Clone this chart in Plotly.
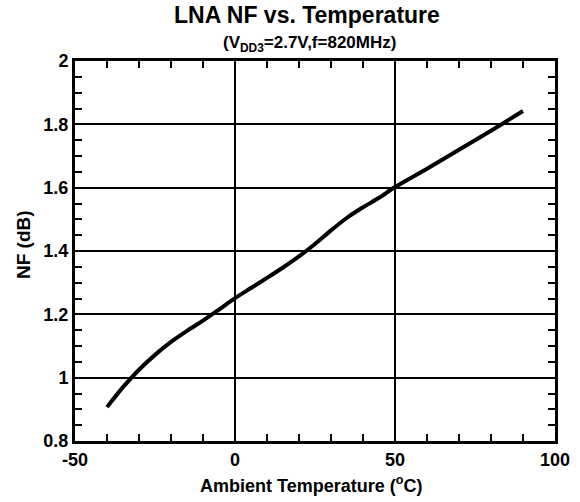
import plotly.graph_objects as go

temp_c = [-40, -35, -30, -25, -20, -15, -10, -5, 0, 5, 10, 15, 20, 25, 30, 35, 40, 45, 50, 60, 70, 80, 90]
nf_db = [0.907, 0.97, 1.025, 1.072, 1.113, 1.148, 1.18, 1.215, 1.251, 1.283, 1.315, 1.348, 1.383,
         1.422, 1.465, 1.505, 1.538, 1.568, 1.602, 1.66, 1.72, 1.78, 1.842]

x_ticks = [-50, 0, 50, 100]
y_ticks = [0.8, 1.0, 1.2, 1.4, 1.6, 1.8, 2.0]
y_tick_text = ["0.8", "1", "1.2", "1.4", "1.6", "1.8", "2"]

title_text = "LNA NF vs. Temperature"
subtitle_text = "(V<sub>DD3</sub>=2.7V,f=820MHz)"
x_title = "Ambient Temperature (<sup>o</sup>C)"
y_title = "NF (dB)"

font_family = "Liberation Sans, Arial, sans-serif"
W, H = 580, 502
L, R, T, B = 75, 25, 61, 61
PW, PH = W - L - R, H - T - B


def px_x(x):
    return (x - L) / PW


def px_y(y):
    return 1 - (y - T) / PH


fig = go.Figure()
fig.add_trace(go.Scatter(x=temp_c, y=nf_db, mode="lines",
                         line=dict(color="black", width=4, shape="spline", smoothing=0.8),
                         showlegend=False, hoverinfo="skip"))

axis_common = dict(
    showline=True, linecolor="black", linewidth=3, mirror="allticks",
    ticks="inside", ticklen=6, tickwidth=2, tickcolor="black",
    showgrid=True, gridcolor="black", gridwidth=2, zeroline=False,
    automargin=False,
    tickfont=dict(family=font_family, size=18, color="black"),
)

fig.update_xaxes(range=[-50, 100], tickvals=x_ticks,
                 ticktext=["<b>%d</b>" % v for v in x_ticks], **axis_common,
                 minor=dict(ticks="inside", dtick=10, ticklen=7, tickwidth=2, tickcolor="black", showgrid=False))
fig.update_yaxes(range=[0.8, 2.0], tickvals=y_ticks,
                 ticktext=["<b>%s</b>" % t for t in y_tick_text], **axis_common,
                 minor=dict(ticks="inside", dtick=0.05, ticklen=7, tickwidth=2, tickcolor="black", showgrid=False))

fig.update_layout(
    width=W, height=H,
    margin=dict(l=L, r=R, t=T, b=B, autoexpand=False),
    plot_bgcolor="white", paper_bgcolor="white",
    font=dict(family=font_family, color="black"),
    annotations=[
        dict(text="<b>%s</b>" % title_text, x=px_x(307), xref="paper", y=px_y(15), yref="paper",
             showarrow=False, xanchor="center", yanchor="middle",
             font=dict(family=font_family, size=23, color="black")),
        dict(text="<b>%s</b>" % subtitle_text, x=px_x(309), xref="paper", y=px_y(44), yref="paper",
             showarrow=False, xanchor="center", yanchor="middle",
             font=dict(family=font_family, size=17, color="black")),
        dict(text="<b>%s</b>" % x_title, x=px_x(311), xref="paper", y=px_y(484), yref="paper",
             showarrow=False, xanchor="center", yanchor="middle",
             font=dict(family=font_family, size=18, color="black")),
        dict(text="<b>%s</b>" % y_title, x=px_x(24), xref="paper", y=px_y(245), yref="paper",
             showarrow=False, xanchor="center", yanchor="middle", textangle=-90,
             font=dict(family=font_family, size=19, color="black")),
    ],
)

fig.write_html("out.html", config={"displayModeBar": False},
               post_script="document.body.style.margin='0px';")
